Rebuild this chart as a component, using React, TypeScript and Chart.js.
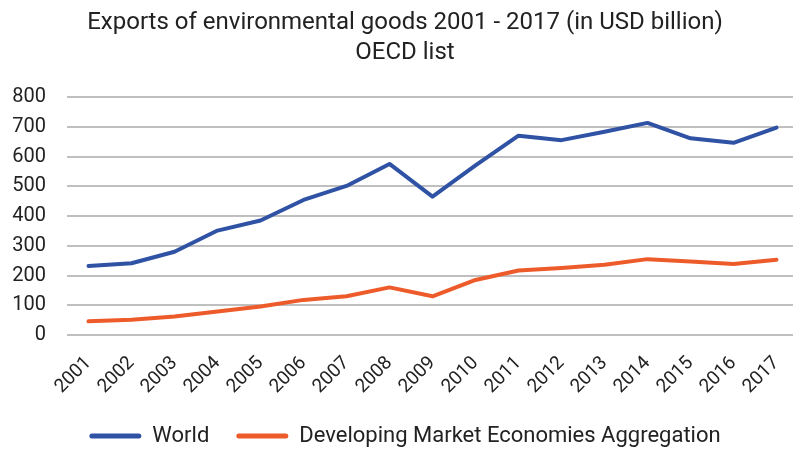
import React, { useEffect, useRef } from "react";
import { Chart, registerables } from "chart.js";

Chart.register(...registerables);

const years = ["2001","2002","2003","2004","2005","2006","2007","2008","2009","2010","2011","2012","2013","2014","2015","2016","2017"];
const world = [232, 241, 280, 351, 385, 454, 501, 575, 465, 570, 670, 655, 683, 713, 661, 646, 697];
const developing = [46, 51, 62, 79, 96, 118, 130, 160, 130, 185, 217, 225, 236, 255, 247, 239, 253];
const titleLines = ["Exports of environmental goods 2001 - 2017 (in USD billion)", "OECD list"];
const seriesNames = ["World", "Developing Market Economies Aggregation"];

export default function App() {
  const ref = useRef<HTMLCanvasElement | null>(null);
  useEffect(() => {
    if (!ref.current) return;
    const font = "Roboto";
    const chart = new Chart(ref.current, {
      type: "line",
      data: {
        labels: years,
        datasets: [
          { label: seriesNames[0], data: world, borderColor: "#2f52a4", backgroundColor: "#2f52a4", borderWidth: 4, pointRadius: 0, tension: 0, borderJoinStyle: "round", borderCapStyle: "round" },
          { label: seriesNames[1], data: developing, borderColor: "#ee5b2a", backgroundColor: "#ee5b2a", borderWidth: 4, pointRadius: 0, tension: 0, borderJoinStyle: "round", borderCapStyle: "round" },
        ],
      },
      options: {
        animation: false,
        responsive: true,
        maintainAspectRatio: false,
        layout: { padding: { left: 12, right: 18, top: 0, bottom: -6 } },
        plugins: {
          title: {
            display: true,
            text: titleLines,
            color: "#222",
            font: { family: font, size: 24, weight: "normal", lineHeight: 1.25 },
            padding: { top: 8, bottom: 29 },
          },
          legend: {
            position: "bottom",
            labels: {
              color: "#222",
              font: { family: font, size: 22 },
              boxWidth: 52,
              boxHeight: 5,
              padding: 27,
              useBorderRadius: true,
              borderRadius: 2.5,
              generateLabels: (c: any) =>
                Chart.defaults.plugins.legend.labels.generateLabels(c).map((l: any) => ({ ...l, lineWidth: 0 })),
            },
          },
          tooltip: { enabled: false },
        },
        scales: {
          x: {
            offset: true,
            grid: { display: false },
            border: { display: false },
            ticks: { color: "#222", font: { family: font, size: 19 }, maxRotation: 45, minRotation: 45, padding: 9 },
            afterFit: (s: any) => { s.height = 63; s.paddingLeft = 0; s.paddingRight = 0; },
          },
          y: {
            min: 0,
            max: 800,
            grid: { color: "#bfbfbf", lineWidth: 2, drawTicks: false },
            border: { display: false },
            ticks: { stepSize: 100, color: "#222", font: { family: font, size: 20 }, padding: 21 },
            afterFit: (s: any) => { s.width = 55; },
          },
        },
      },
    });
    return () => chart.destroy();
  }, []);
  return (
    <div style={{ position: "absolute", left: 0, top: 0, width: 793, height: 451, overflow: "hidden", background: "#fff" }}>
      <div style={{ position: "relative", width: 816, height: 451 }}>
        <canvas ref={ref} />
      </div>
    </div>
  );
}
